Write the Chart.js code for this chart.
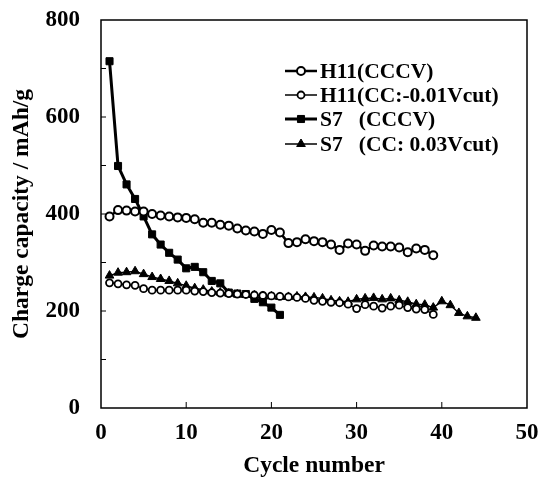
<!DOCTYPE html>
<html>
<head>
<meta charset="utf-8">
<script src="https://cdn.jsdelivr.net/npm/chart.js@4.4.1/dist/chart.umd.min.js"></script>
<style>
  html, body { margin: 0; padding: 0; background: #fff; }
  #wrap { width: 540px; height: 484px; }
</style>
</head>
<body>
<div id="wrap"><canvas id="chart1" width="540" height="484"></canvas></div>
<script>
// ---- data ----
const cycles = [1, 2, 3, 4, 5, 6, 7, 8, 9, 10, 11, 12, 13, 14, 15, 16, 17, 18, 19, 20, 21, 22,
  23, 24, 25, 26, 27, 28, 29, 30, 31, 32, 33, 34, 35, 36, 37, 38, 39, 40, 41, 42, 43, 44];

const seriesNames = ["H11(CCCV)", "H11(CC:-0.01Vcut)", "S7   (CCCV)", "S7   (CC: 0.03Vcut)"];

const h11Cccv = [395, 408, 407, 405, 405, 400, 397, 395, 393, 392, 389, 382, 382, 378, 376, 370,
  366, 364, 359, 367, 362, 340, 342, 348, 344, 342, 337, 326, 339, 337, 324, 335, 333, 333, 331,
  321, 329, 326, 315];

const h11Cc = [258, 256, 254, 253, 246, 243, 243, 243, 243, 243, 241, 240, 238, 237, 236, 235,
  234, 233, 232, 231, 230, 229, 228, 226, 222, 220, 218, 217, 214, 205, 213, 210, 206, 210, 212,
  207, 204, 203, 193];

const s7Cccv = [715, 499, 461, 431, 395, 358, 337, 320, 306, 288, 291, 280, 262, 257, 238, 236,
  235, 225, 218, 207, 192];

const s7Cc = [273, 279, 280, 282, 276, 270, 266, 262, 257, 252, 247, 244, 240, 238, 236, 234,
  233, 232, 231, 230, 229, 229, 230, 229, 228, 226, 222, 220, 219, 224, 226, 227, 224, 226, 222,
  219, 214, 213, 207, 220, 212, 196, 189, 186];

const xTickMarks = [10, 20, 30, 40];
const yTickMarks = [100, 200, 300, 400, 500, 600, 700];

function pts(values) {
  return values.map((v, i) => ({ x: cycles[i], y: v }));
}

const serif = "'Liberation Serif', 'DejaVu Serif', serif";

// frame, inward ticks and the legend inside the plot
const framePlugin = {
  id: "framePlugin",
  afterDraw(chart) {
    const ctx = chart.ctx;
    const a = chart.chartArea;
    const xs = chart.scales.x;
    const ys = chart.scales.y;
    ctx.save();
    ctx.strokeStyle = "#000";
    ctx.lineWidth = 1.5;
    ctx.strokeRect(a.left, a.top, a.right - a.left, a.bottom - a.top);
    ctx.lineWidth = 1;
    xTickMarks.forEach(v => {
      const px = xs.getPixelForValue(v);
      ctx.beginPath();
      ctx.moveTo(px, a.bottom);
      ctx.lineTo(px, a.bottom - 6);
      ctx.stroke();
    });
    yTickMarks.forEach(v => {
      const py = ys.getPixelForValue(v);
      ctx.beginPath();
      ctx.moveTo(a.left, py);
      ctx.lineTo(a.left + 5, py);
      ctx.stroke();
    });

    // legend
    const rows = [71, 95, 119, 144];
    chart.data.datasets.forEach((ds, i) => {
      const y = rows[i];
      ctx.strokeStyle = "#000";
      ctx.lineWidth = ds.borderWidth;
      ctx.beginPath();
      ctx.moveTo(285, y);
      ctx.lineTo(317, y);
      ctx.stroke();
      ctx.lineWidth = ds.pointBorderWidth;
      ctx.fillStyle = ds.pointBackgroundColor;
      Chart.helpers.drawPoint(ctx, {
        pointStyle: ds.pointStyle,
        radius: ds.pointRadius,
        borderWidth: ds.pointBorderWidth,
        rotation: 0
      }, 301, y);
      ctx.fillStyle = "#000";
      ctx.font = "bold 21.5px " + serif;
      ctx.textBaseline = "middle";
      ctx.textAlign = "left";
      ctx.fillText(ds.label, 320, y + 1);
    });
    ctx.restore();
  }
};

const chartEle1 = document.getElementById("chart1").getContext("2d");

const chart1 = new Chart(chartEle1, {
  type: "line",
  data: {
    datasets: [
      {
        label: seriesNames[0],
        data: pts(h11Cccv),
        borderColor: "#000",
        borderWidth: 2.5,
        pointStyle: "circle",
        pointRadius: 4,
        pointBorderWidth: 2,
        pointBorderColor: "#000",
        pointBackgroundColor: "#fff",
      },
      {
        label: seriesNames[1],
        data: pts(h11Cc),
        borderColor: "#000",
        borderWidth: 1.5,
        pointStyle: "circle",
        pointRadius: 3.5,
        pointBorderWidth: 1.8,
        pointBorderColor: "#000",
        pointBackgroundColor: "#fff",
      },
      {
        label: seriesNames[2],
        data: pts(s7Cccv),
        borderColor: "#000",
        borderWidth: 3,
        pointStyle: "rect",
        pointRadius: 5,
        pointBorderWidth: 1,
        pointBorderColor: "#000",
        pointBackgroundColor: "#000",
      },
      {
        label: seriesNames[3],
        data: pts(s7Cc),
        borderColor: "#000",
        borderWidth: 1.5,
        pointStyle: "triangle",
        pointRadius: 5,
        pointBorderWidth: 1,
        pointBorderColor: "#000",
        pointBackgroundColor: "#000",
      },
    ],
  },
  options: {
    responsive: false,
    animation: false,
    layout: { padding: { left: 8, right: 13, top: 20, bottom: 0 } },
    plugins: {
      legend: { display: false },
      tooltip: { enabled: false },
    },
    scales: {
      x: {
        type: "linear",
        min: 0,
        max: 50,
        grid: { display: false, drawTicks: false },
        border: { display: false },
        ticks: {
          stepSize: 10,
          padding: 11,
          color: "#000",
          font: { family: serif, size: 23, weight: "bold" },
        },
        title: {
          display: true,
          text: "Cycle number",
          color: "#000",
          padding: { top: 0, bottom: 4 },
          font: { family: serif, size: 23.5, weight: "bold" },
        },
        afterFit: s => {
          s.height = 76;
          s.paddingLeft = 0;
          s.paddingRight = 0;
        },
      },
      y: {
        min: 0,
        max: 800,
        grid: { display: false, drawTicks: false },
        border: { display: false },
        ticks: {
          stepSize: 200,
          padding: 21,
          color: "#000",
          font: { family: serif, size: 23, weight: "bold" },
        },
        title: {
          display: true,
          text: "Charge capacity / mAh/g",
          color: "#000",
          padding: { top: 0, bottom: 0 },
          font: { family: serif, size: 23.5, weight: "bold" },
        },
        afterFit: s => {
          s.width = 93;
          s.paddingTop = 0;
          s.paddingBottom = 0;
        },
      },
    },
  },
  plugins: [framePlugin],
});
</script>
</body>
</html>
